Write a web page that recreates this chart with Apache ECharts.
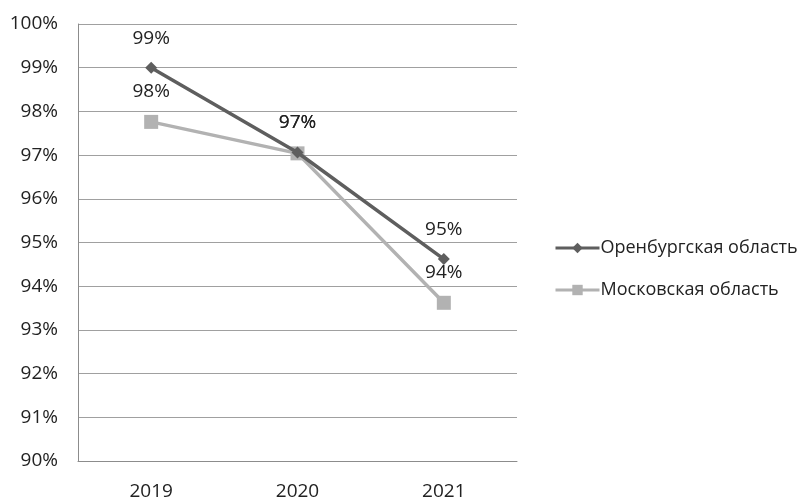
<!DOCTYPE html>
<html>
<head>
<meta charset="utf-8">
<script src="https://cdn.jsdelivr.net/npm/echarts@6/dist/echarts.min.js"></script>
<style>
  html, body { margin: 0; padding: 0; background: #fff; }
  #chart { width: 802px; height: 502px; }
</style>
</head>
<body>
<div id="chart"></div>
<script>
const years = ['2019', '2020', '2021']
const orenburg = [99.0, 97.06, 94.62]
const moscow = [97.76, 97.04, 93.62]
const seriesNames = ['Оренбургская область', 'Московская область']

const font = 'Open Sans'
const chart = echarts.init(document.getElementById('chart'))

const labelStyle = {
  show: true,
  position: 'top',
  distance: 14,
  color: '#222',
  fontSize: 19,
  fontFamily: font,
  formatter: (p) => Math.round(p.value) + '%'
}

chart.setOption({
  animation: false,
  grid: { left: 78, right: 285, top: 24, bottom: 41 },
  legend: {
    orient: 'vertical',
    left: 549,
    top: 232,
    itemGap: 20,
    itemWidth: 44,
    itemHeight: 13,
    lineStyle: { width: 3 },
    textStyle: { color: '#222', fontSize: 18, lineHeight: 22, fontFamily: font, padding: [0, 0, 0, -4] },
    data: seriesNames
  },
  xAxis: {
    type: 'category',
    data: years,
    boundaryGap: true,
    axisLine: { lineStyle: { color: '#8c8c8c', width: 1 } },
    axisTick: { show: false },
    axisLabel: { color: '#222', fontSize: 19, fontFamily: font, margin: 21 }
  },
  yAxis: {
    type: 'value',
    min: 90,
    max: 100,
    interval: 1,
    axisLine: { show: true, lineStyle: { color: '#8c8c8c', width: 1 } },
    axisTick: { show: false },
    splitLine: { lineStyle: { color: '#a0a0a0', width: 1 } },
    axisLabel: {
      color: '#222', fontSize: 19, fontFamily: font, margin: 20,
      formatter: (v) => v + '%'
    }
  },
  series: [
    {
      name: seriesNames[0],
      type: 'line',
      data: orenburg,
      symbol: 'diamond',
      symbolSize: 12,
      z: 3,
      itemStyle: { color: '#5e5e5e' },
      lineStyle: { color: '#5e5e5e', width: 3.5 },
      label: labelStyle
    },
    {
      name: seriesNames[1],
      type: 'line',
      data: moscow,
      symbol: 'rect',
      symbolSize: 14,
      z: 2,
      itemStyle: { color: '#b2b2b2' },
      lineStyle: { color: '#b2b2b2', width: 3.5 },
      label: labelStyle
    }
  ]
})
</script>
</body>
</html>
